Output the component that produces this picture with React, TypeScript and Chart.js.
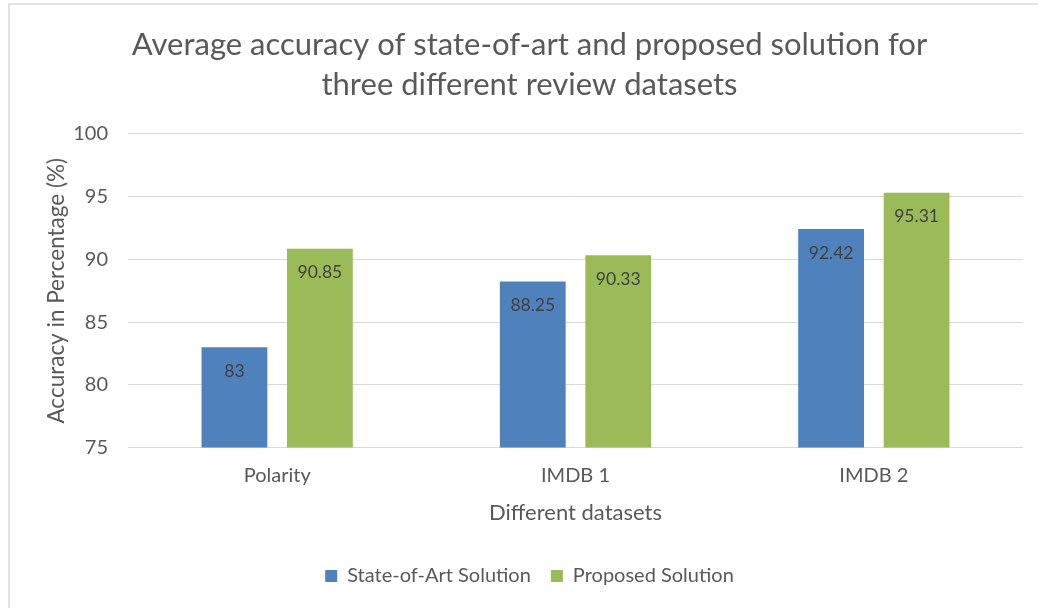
import React, { useEffect, useRef } from "react";
import { Chart, registerables } from "chart.js";

Chart.register(...registerables);

const categories = ["Polarity", "IMDB 1", "IMDB 2"];
const stateOfArt = [83, 88.25, 92.42];
const proposed = [90.85, 90.33, 95.31];
const seriesNames = ["State-of-Art Solution", "Proposed Solution"];
const titleLines = [
  "Average accuracy of state-of-art and proposed solution for",
  "three different review datasets",
];

const TEXT = "#595959";
const UI_FONT = "Lato, 'Open Sans', sans-serif";

const labelPlugin = {
  id: "barLabels",
  afterDatasetsDraw(chart: any) {
    const ctx = chart.ctx;
    ctx.save();
    ctx.font = `17.5px ${UI_FONT}`;
    ctx.fillStyle = "#404040";
    ctx.textAlign = "center";
    ctx.textBaseline = "middle";
    chart.data.datasets.forEach((ds: any, i: number) => {
      const meta = chart.getDatasetMeta(i);
      meta.data.forEach((bar: any, j: number) => {
        ctx.fillText(String(ds.data[j]), bar.x, bar.y + 24);
      });
    });
    ctx.restore();
  },
};

export default function App() {
  const ref = useRef<HTMLCanvasElement>(null);
  useEffect(() => {
    const chart = new Chart(ref.current!, {
      type: "bar",
      data: {
        labels: categories,
        datasets: [
          { label: seriesNames[0], data: stateOfArt, backgroundColor: "#4f81bd", categoryPercentage: 0.573, barPercentage: 0.77 },
          { label: seriesNames[1], data: proposed, backgroundColor: "#9bbb59", categoryPercentage: 0.573, barPercentage: 0.77 },
        ],
      },
      options: {
        animation: false,
        responsive: false,
        layout: { padding: { left: 36, right: 15, top: 0, bottom: 12 } },
        plugins: {
          title: {
            display: true,
            text: titleLines,
            color: TEXT,
            font: { family: "Lato, sans-serif", size: 31, weight: "normal", lineHeight: 1.29 },
            padding: { top: 25, bottom: 29 },
          },
          legend: {
            position: "bottom",
            labels: {
              color: TEXT,
              font: { family: UI_FONT, size: 20 },
              boxWidth: 12,
              boxHeight: 12,
              padding: 20,
            },
          },
          tooltip: { enabled: false },
        },
        scales: {
          x: {
            grid: { display: false },
            border: { display: false },
            ticks: { color: TEXT, font: { family: UI_FONT, size: 20 }, padding: 8 },
            title: { display: true, text: "Different datasets", color: TEXT, font: { family: UI_FONT, size: 22 }, padding: { top: 4, bottom: 20 } },
          },
          y: {
            min: 75,
            max: 100,
            ticks: { stepSize: 5, color: TEXT, font: { family: UI_FONT, size: 20 }, padding: 20 },
            grid: { color: "#d9d9d9", drawTicks: false },
            border: { display: false },
            title: { display: true, text: "Accuracy in Percentage (%)", color: TEXT, font: { family: UI_FONT, size: 22.5 }, padding: { top: 7, bottom: 0 } },
            afterFit: (s: any) => { s.width = 92; },
          },
        },
      },
      plugins: [labelPlugin],
    });
    return () => chart.destroy();
  }, []);
  return (
    <div>
      <div style={{ position: "fixed", left: 8, top: 3, width: 1100, height: 700, border: "2px solid #e3e3e3", boxSizing: "border-box" }} />
      <canvas ref={ref} width={1038} height={608} style={{ position: "fixed", left: 0, top: 0, width: 1038, height: 608 }} />
    </div>
  );
}
